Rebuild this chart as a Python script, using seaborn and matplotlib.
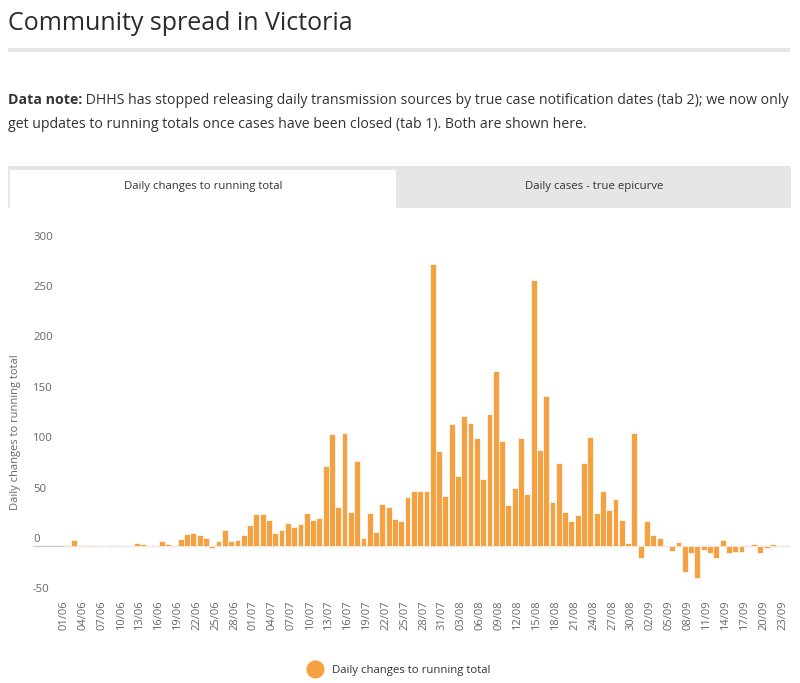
import pandas as pd
import matplotlib
matplotlib.use("Agg")
import matplotlib.pyplot as plt
import seaborn as sns
from matplotlib.transforms import ScaledTranslation, blended_transform_factory
from matplotlib.patches import Rectangle
from matplotlib.lines import Line2D

# daily categories 01/06 .. 23/09
dates = pd.date_range("2020-06-01", "2020-09-23", freq="D").strftime("%d/%m").tolist()

# daily changes to running total
changes = [1, 6, 1, 1, -1, 0, 0, 1, 1, 0,
           0, 3, 2, 0, 0, 5, 2, 1, 7, 11,
           12, 10, 8, -2, 5, 15, 5, 6, 10, 20,
           31, 31, 25, 12, 15, 22, 18, 21, 32, 25,
           27, 79, 111, 38, 112, 33, 84, 8, 32, 13,
           41, 38, 26, 24, 48, 54, 54, 54, 279, 94,
           49, 121, 69, 128, 122, 107, 66, 130, 173, 104,
           40, 57, 107, 51, 263, 95, 148, 43, 82, 33,
           24, 30, 82, 108, 32, 54, 35, 46, 25, 3,
           112, -12, 24, 10, 8, 0, -5, 4, -26, -7,
           -32, -4, -7, -12, 6, -7, -6, -6, 0, 2,
           -7, -2, 2, 0, 0]

y_ticks = [-50, 0, 50, 100, 150, 200, 250, 300]

title = "Community spread in Victoria"
note_bold = "Data note:"
note_line1 = " DHHS has stopped releasing daily transmission sources by true case notification dates (tab 2); we now only"
note_line2 = "get updates to running totals once cases have been closed (tab 1). Both are shown here."
tab1 = "Daily changes to running total"
tab2 = "Daily cases - true epicurve"
series_name = "Daily changes to running total"

orange = "#F4A142"
dark = "#333333"
grey = "#666666"

sns.set_theme(style="white")
plt.rcParams["font.family"] = ["Open Sans", "DejaVu Sans"]

W, H = 800, 683
fig = plt.figure(figsize=(8, 6.83), dpi=100)


def fx(px):
    return px / W


def fy(py):
    return 1 - py / H


# header
fig.text(fx(8), fy(24), title, fontsize=18, color="#2b2b2b", va="center", ha="left")
fig.add_artist(Rectangle((fx(8), fy(52)), fx(782), 4 / H, transform=fig.transFigure,
                         facecolor="#e4e4e4", edgecolor="none"))

# data note with bold lead-in
renderer = fig.canvas.get_renderer()
t_bold = fig.text(fx(8), fy(100), note_bold, fontsize=10.2, fontweight="bold", color=dark,
                  va="center", ha="left")
bb = t_bold.get_window_extent(renderer=renderer)
fig.text(bb.x1 / W, fy(100), note_line1, fontsize=10.2, color=dark, va="center", ha="left")
fig.text(fx(8), fy(124), note_line2, fontsize=10.2, color=dark, va="center", ha="left")

# tabs
fig.add_artist(Rectangle((fx(8), fy(208)), fx(783), 42 / H, transform=fig.transFigure,
                         facecolor="#e6e6e6", edgecolor="none"))
fig.add_artist(Rectangle((fx(10), fy(208)), fx(386), 38 / H, transform=fig.transFigure,
                         facecolor="white", edgecolor="none"))
fig.text(fx(203), fy(187), tab1, fontsize=8.2, color=dark, ha="center", va="center")
fig.text(fx(594), fy(187), tab2, fontsize=8.2, color=dark, ha="center", va="center")

# chart
ax = fig.add_axes([fx(33), fy(596), fx(757), 353 / H])
df = pd.DataFrame({"date": dates, "change": changes})
sns.barplot(data=df, x="date", y="change", color=orange, saturation=1, width=0.93,
            edgecolor="white", linewidth=0.5, ax=ax)

ax.set_xlim(-5.45, 114.7)
ax.set_ylim(-50, 300)
ax.axhline(0, color="#cccccc", linewidth=1, zorder=0)
for s in ax.spines.values():
    s.set_visible(False)
ax.set_xlabel("")
ax.set_ylabel("")

ax.set_xticks(range(0, len(dates), 3))
ax.set_xticklabels(dates[::3], rotation=90, fontsize=8, color=grey)
ax.tick_params(axis="x", length=0, pad=3)
shift = ScaledTranslation(-3 / 100, 0, fig.dpi_scale_trans)
for lab in ax.get_xticklabels():
    lab.set_transform(lab.get_transform() + shift)

# y labels sit above the gridline, inside the plot area
ax.set_yticks([])
ytrans = blended_transform_factory(ax.transAxes, ax.transData) + \
    ScaledTranslation(0, 6 / 100, fig.dpi_scale_trans)
for v in y_ticks:
    ax.text(0, v, str(v), transform=ytrans, fontsize=8.2, color=grey, ha="left", va="center")

fig.text(fx(16), fy(432), "Daily changes to running total", rotation=90, fontsize=8,
         color=grey, ha="center", va="center")

handle = Line2D([], [], marker="o", linestyle="none", markersize=12,
                markerfacecolor=orange, markeredgecolor=orange)
fig.legend(handles=[handle], labels=[series_name], loc="center",
           bbox_to_anchor=(fx(397), fy(670)), frameon=False, fontsize=8.2,
           labelcolor=dark, handletextpad=0.5)

fig.savefig("out.png", dpi=100)
